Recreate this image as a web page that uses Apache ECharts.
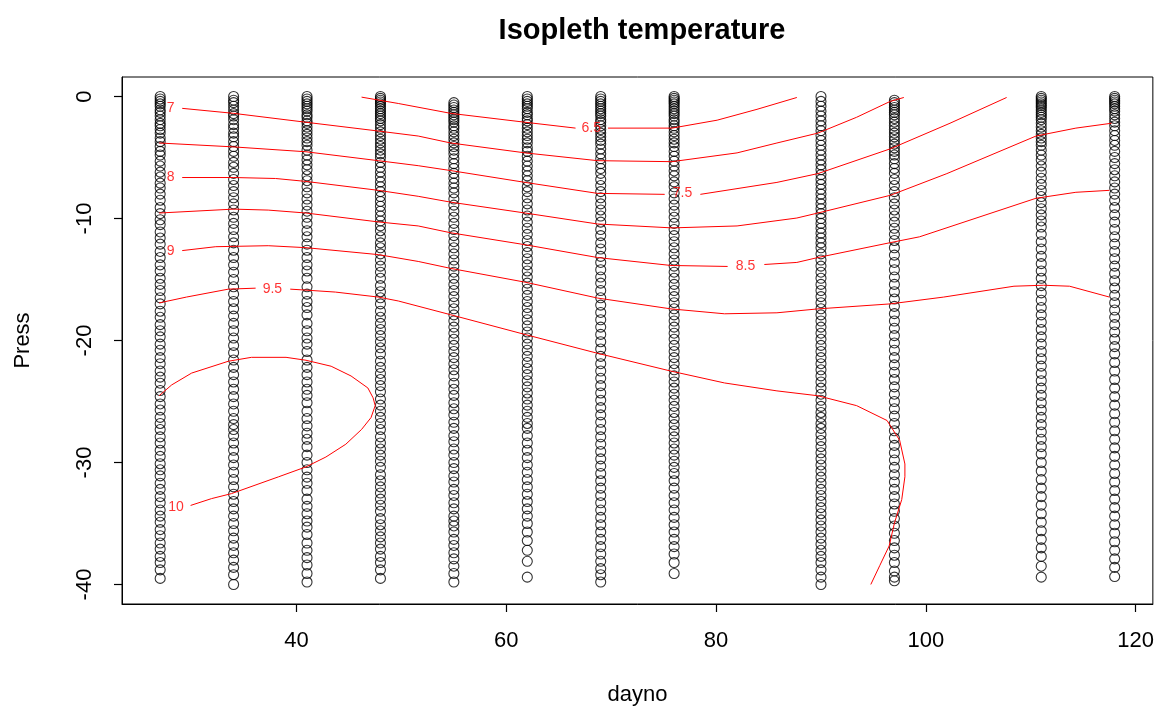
<!DOCTYPE html>
<html>
<head>
<meta charset="utf-8">
<script src="https://cdn.jsdelivr.net/npm/echarts@6/dist/echarts.min.js"></script>
<style>
  html, body { margin: 0; padding: 0; background: #fff; }
  #main { width: 1157px; height: 711px; }
</style>
</head>
<body>
<div id="main"></div>
<script>
// sampling days (stations) and pressures of each cast
var days = [27, 34, 41, 48, 55, 62, 69, 76, 90, 97, 111, 118];

var p27 = [0,-0.2,-0.4,-0.6,-0.8,-1.1,-1.3,-1.6,-1.9,-2.2,-2.4,-2.7,-3,-3.4,-3.7,-4.1,-4.5,-4.8,-5.3,-5.7,-6.2,-6.6,-7.1,-7.5,-8,-8.5,-9.1,-9.6,-10.1,-10.5,-11.1,-11.6,-12.1,-12.7,-13.2,-13.8,-14.3,-14.9,-15.4,-15.9,-16.5,-17,-17.6,-18.1,-18.7,-19.2,-19.7,-20.3,-20.8,-21.4,-21.9,-22.5,-23,-23.5,-24.1,-24.6,-25.2,-25.7,-26.3,-26.8,-27.3,-27.9,-28.4,-29,-29.5,-30.1,-30.6,-31.1,-31.7,-32.2,-32.8,-33.3,-33.9,-34.4,-34.9,-35.5,-36,-36.6,-37.1,-37.7,-38.2,-38.8,-39.5];
var p34 = [0,-0.3,-0.5,-0.8,-1.1,-1.4,-1.6,-1.9,-2.3,-2.6,-3,-3.3,-3.7,-4.1,-4.5,-4.9,-5.4,-5.8,-6.3,-6.8,-7.3,-7.8,-8.3,-8.8,-9.3,-9.9,-10.4,-10.9,-11.5,-12,-12.6,-13.2,-13.8,-14.4,-15,-15.6,-16.2,-16.8,-17.4,-18,-18.6,-19.2,-19.8,-20.4,-21,-21.6,-22.2,-22.8,-23.4,-24,-24.6,-25.2,-25.8,-26.4,-26.9,-27.3,-27.8,-28.4,-29,-29.6,-30.2,-30.8,-31.4,-32,-32.6,-33.2,-33.8,-34.4,-35,-35.6,-36.2,-36.8,-37.4,-38,-38.6,-39.2,-40];
var p41 = [0,-0.2,-0.4,-0.6,-0.8,-1,-1.2,-1.5,-1.7,-2,-2.2,-2.5,-2.8,-3.1,-3.4,-3.7,-4,-4.4,-4.8,-5.2,-5.6,-6,-6.5,-6.9,-7.4,-7.9,-8.4,-8.9,-9.4,-9.9,-10.4,-11,-11.5,-12.1,-12.6,-13.2,-13.8,-14.3,-14.9,-15.6,-16.2,-16.8,-17.3,-17.9,-18.6,-19.2,-19.8,-20.3,-20.9,-21.6,-22.2,-22.8,-23.4,-24,-24.5,-25.1,-25.8,-26.4,-27,-27.6,-28.1,-28.7,-29.4,-30,-30.6,-31.2,-31.7,-32.3,-33,-33.6,-34.2,-34.8,-35.3,-35.9,-36.6,-37.2,-37.8,-38.4,-39.1,-39.8];
var p48 = [0,-0.15,-0.3,-0.45,-0.6,-0.8,-1,-1.2,-1.4,-1.6,-1.8,-2,-2.3,-2.6,-2.9,-3.2,-3.5,-3.8,-4.1,-4.4,-4.7,-5,-5.4,-5.8,-6.2,-6.6,-7,-7.4,-7.8,-8.2,-8.6,-9,-9.4,-9.8,-10.2,-10.6,-11,-11.5,-12,-12.4,-12.9,-13.4,-13.9,-14.4,-14.9,-15.5,-16,-16.5,-17,-17.6,-18.1,-18.6,-19.1,-19.6,-20.1,-20.6,-21.1,-21.7,-22.2,-22.7,-23.2,-23.7,-24.2,-24.8,-25.3,-25.8,-26.3,-26.8,-27.3,-27.9,-28.4,-28.9,-29.4,-29.9,-30.4,-31,-31.5,-32,-32.5,-33,-33.5,-34,-34.6,-35.1,-35.6,-36.1,-36.6,-37.1,-37.7,-38.2,-38.8,-39.5];
var p55 = [-0.5,-0.7,-0.9,-1.1,-1.3,-1.5,-1.7,-1.9,-2.1,-2.4,-2.6,-2.9,-3.2,-3.5,-3.8,-4.1,-4.4,-4.7,-5.1,-5.5,-5.9,-6.3,-6.7,-7.1,-7.5,-7.9,-8.4,-8.9,-9.4,-9.9,-10.4,-10.9,-11.4,-11.9,-12.4,-12.9,-13.4,-13.9,-14.4,-14.9,-15.4,-15.9,-16.4,-16.9,-17.4,-17.9,-18.4,-18.9,-19.4,-19.9,-20.4,-20.9,-21.4,-21.9,-22.4,-22.9,-23.5,-24,-24.5,-25.1,-25.6,-26.1,-26.7,-27.2,-27.8,-28.3,-28.9,-29.4,-30,-30.5,-31.1,-31.6,-32.2,-32.7,-33.3,-33.8,-34.4,-34.8,-35.2,-35.7,-36.3,-36.8,-37.4,-37.9,-38.5,-39.1,-39.8];
var p62 = [0,-0.2,-0.4,-0.6,-0.8,-1,-1.3,-1.5,-1.8,-2,-2.3,-2.6,-2.9,-3.2,-3.5,-3.8,-4.2,-4.5,-4.9,-5.3,-5.7,-6.1,-6.5,-6.9,-7.4,-7.8,-8.3,-8.8,-9.3,-9.8,-10.3,-10.8,-11.3,-11.8,-12.3,-12.8,-13.3,-13.8,-14.3,-14.8,-15.3,-15.8,-16.3,-16.8,-17.3,-17.8,-18.3,-18.8,-19.3,-19.8,-20.3,-20.8,-21.3,-21.8,-22.3,-22.8,-23.3,-23.8,-24.3,-24.8,-25.3,-25.8,-26.3,-26.8,-27.2,-27.8,-28.4,-29,-29.6,-30.2,-30.8,-31.4,-32,-32.6,-33.2,-33.8,-34.4,-35,-35.7,-36.4,-37.2,-38.1,-39.4];
var p69 = [0,-0.2,-0.4,-0.6,-0.8,-1,-1.2,-1.4,-1.6,-1.9,-2.1,-2.4,-2.7,-3,-3.3,-3.6,-3.9,-4.3,-4.7,-5.1,-5.5,-5.9,-6.3,-6.8,-7.3,-7.8,-8.3,-8.8,-9.3,-9.8,-10.3,-10.9,-11.4,-12,-12.5,-13.1,-13.6,-14.2,-14.8,-15.3,-15.9,-16.5,-17.1,-17.7,-18.3,-18.9,-19.5,-20.1,-20.7,-21.3,-21.9,-22.5,-23.1,-23.7,-24.3,-24.9,-25.5,-26.1,-26.7,-27.3,-27.9,-28.5,-29.1,-29.7,-30.3,-30.9,-31.5,-32.1,-32.7,-33.3,-33.9,-34.5,-35.1,-35.7,-36.3,-36.9,-37.5,-38.1,-38.7,-39.2,-39.8];
var p76 = [0,-0.15,-0.3,-0.45,-0.6,-0.8,-1,-1.2,-1.4,-1.6,-1.9,-2.1,-2.4,-2.6,-2.9,-3.2,-3.5,-3.8,-4.1,-4.5,-4.9,-5.3,-5.7,-6.1,-6.5,-7,-7.4,-7.9,-8.4,-8.9,-9.4,-9.9,-10.4,-10.9,-11.4,-11.9,-12.4,-12.9,-13.4,-13.9,-14.4,-14.9,-15.4,-15.9,-16.4,-16.9,-17.4,-17.9,-18.4,-18.9,-19.4,-19.9,-20.4,-20.9,-21.4,-21.9,-22.4,-22.9,-23.4,-23.9,-24.4,-24.9,-25.4,-25.9,-26.4,-26.9,-27.4,-27.9,-28.4,-28.9,-29.4,-29.9,-30.4,-30.9,-31.5,-32.1,-32.7,-33.3,-33.9,-34.5,-35.1,-35.7,-36.3,-36.9,-37.5,-38.2,-39.1];
var p90 = [0,-0.4,-0.8,-1.2,-1.6,-2,-2.4,-2.8,-3.2,-3.6,-4,-4.4,-4.8,-5.2,-5.6,-6,-6.4,-6.8,-7.2,-7.6,-8,-8.4,-8.8,-9.2,-9.6,-10,-10.4,-10.8,-11.2,-11.6,-12,-12.4,-12.9,-13.4,-13.9,-14.4,-14.9,-15.4,-15.9,-16.4,-16.9,-17.4,-17.9,-18.4,-18.9,-19.4,-19.9,-20.4,-20.9,-21.4,-21.9,-22.4,-22.9,-23.4,-23.9,-24.4,-24.9,-25.4,-25.9,-26.3,-26.8,-27.2,-27.7,-28.2,-28.7,-29.2,-29.7,-30.2,-30.7,-31.2,-31.7,-32.2,-32.7,-33.2,-33.7,-34.2,-34.7,-35.2,-35.7,-36.2,-36.7,-37.2,-37.7,-38.2,-38.8,-39.4,-40];
var p97 = [-0.3,-0.5,-0.7,-0.9,-1.1,-1.3,-1.5,-1.8,-2.1,-2.4,-2.7,-3,-3.3,-3.6,-3.9,-4.2,-4.5,-4.8,-5.1,-5.5,-5.9,-6.3,-6.8,-7.3,-7.8,-8.3,-8.8,-9.3,-9.8,-10.3,-10.8,-11.3,-11.8,-12.4,-13,-13.6,-14.2,-14.8,-15.4,-16,-16.6,-17.2,-17.8,-18.4,-19,-19.6,-20.2,-20.8,-21.4,-22,-22.6,-23.2,-23.8,-24.4,-25,-25.6,-26.2,-26.8,-27.4,-28,-28.6,-29.2,-29.8,-30.4,-31,-31.6,-32.2,-32.8,-33.4,-34,-34.6,-35.2,-35.8,-36.4,-37,-37.6,-38.2,-38.9,-39.4,-39.7];
var p111 = [0,-0.15,-0.3,-0.45,-0.6,-0.75,-0.9,-1.1,-1.3,-1.5,-1.7,-1.9,-2.2,-2.5,-2.8,-3.1,-3.4,-3.7,-4,-4.4,-4.8,-5.2,-5.7,-6.2,-6.7,-7.2,-7.7,-8.2,-8.7,-9.2,-9.7,-10.2,-10.7,-11.3,-11.9,-12.5,-13.1,-13.7,-14.3,-14.9,-15.5,-16.1,-16.7,-17.3,-17.9,-18.5,-19.1,-19.7,-20.3,-20.9,-21.5,-22.1,-22.7,-23.3,-23.9,-24.5,-25.1,-25.7,-26.3,-26.9,-27.5,-28.1,-28.7,-29.3,-30,-30.7,-31.4,-32.1,-32.8,-33.5,-34.2,-34.9,-35.6,-36.3,-37,-37.7,-38.5,-39.4];
var p118 = [0,-0.15,-0.3,-0.45,-0.6,-0.8,-1,-1.2,-1.5,-1.8,-2.1,-2.4,-2.8,-3.2,-3.6,-4,-4.5,-5,-5.5,-6,-6.5,-7,-7.5,-8,-8.5,-9.1,-9.7,-10.3,-10.9,-11.5,-12.1,-12.7,-13.3,-13.9,-14.5,-15.1,-15.7,-16.3,-16.9,-17.5,-18.1,-18.7,-19.3,-19.9,-20.5,-21.1,-21.8,-22.5,-23.2,-23.9,-24.6,-25.3,-26,-26.7,-27.4,-28.1,-28.8,-29.5,-30.2,-30.9,-31.6,-32.3,-33,-33.7,-34.4,-35.1,-35.8,-36.5,-37.2,-37.9,-38.6,-39.35];
var pressByDay = [p27, p34, p41, p48, p55, p62, p69, p76, p90, p97, p111, p118];

// isopleth lines, [dayno, press]
var iso65a = [[46.2,-0.05],[49.7,-0.57],[54.7,-1.38],[61.8,-2.11],[66.6,-2.59]];
var iso65b = [[69.7,-2.59],[75.8,-2.59],[80.1,-1.94],[83.9,-1.05],[87.7,-0.08]];
var iso7 = [[29.1,-0.97],[34.0,-1.38],[40.9,-2.11],[47.8,-2.83],[51.6,-3.24],[54.7,-3.81],[61.8,-4.62],[68.7,-5.26],[75.8,-5.34],[82.0,-4.62],[85.8,-3.81],[89.7,-3.0],[93.4,-1.7],[96.6,-0.4],[97.9,-0.08]];
var iso75a = [[26.9,-3.81],[34.0,-4.13],[40.9,-4.53],[47.8,-5.26],[51.6,-5.67],[54.7,-6.07],[61.8,-7.04],[68.7,-7.94],[75.1,-8.02]];
var iso75b = [[78.5,-8.02],[85.8,-7.04],[89.7,-6.32],[96.6,-4.29],[102.3,-2.19],[107.7,-0.08]];
var iso8 = [[29.1,-6.64],[34.0,-6.64],[38.0,-6.72],[40.9,-6.96],[47.8,-7.69],[51.6,-8.18],[54.7,-8.66],[61.8,-9.55],[68.7,-10.45],[75.8,-10.77],[82.0,-10.61],[87.7,-9.96],[89.7,-9.55],[96.6,-8.1],[102.0,-6.32],[110.5,-3.24],[114.3,-2.59],[117.7,-2.19]];
var iso85a = [[26.9,-9.55],[34.0,-9.23],[37.3,-9.31],[40.9,-9.55],[47.8,-10.28],[51.6,-10.61],[54.7,-11.17],[61.8,-12.15],[68.7,-13.2],[75.7,-13.85],[81.1,-13.93]];
var iso85b = [[84.6,-13.77],[87.7,-13.6],[89.7,-13.2],[96.6,-11.98],[99.4,-11.5],[110.5,-8.34],[114.3,-7.85],[117.5,-7.69]];
var iso9 = [[29.1,-12.63],[32.3,-12.31],[37.3,-12.23],[40.9,-12.39],[47.8,-12.96],[51.6,-13.52],[54.7,-14.09],[61.8,-15.22],[68.7,-16.52],[75.7,-17.41],[80.8,-17.81],[85.8,-17.73],[89.7,-17.41],[96.6,-17.0],[101.7,-16.44],[108.4,-15.55],[111.2,-15.47],[113.7,-15.55],[117.5,-16.44]];
var iso95a = [[26.9,-16.92],[29.5,-16.44],[33.5,-15.79],[36.1,-15.71]];
var iso95b = [[39.4,-15.79],[40.9,-15.87],[43.7,-16.03],[47.8,-16.44],[49.7,-16.76],[54.7,-17.89],[61.8,-19.51],[68.7,-21.05],[75.7,-22.51],[80.8,-23.48],[85.8,-24.13],[89.7,-24.53],[93.4,-25.34],[96.3,-26.56],[97.5,-28.18],[98.0,-30.12],[98.0,-31.17],[97.7,-33.04],[97.0,-34.98],[96.5,-36.84],[95.6,-38.46],[94.75,-40.0]];
var iso10 = [[26.9,-24.53],[28.1,-23.64],[30.0,-22.67],[33.5,-21.7],[35.7,-21.38],[39.0,-21.38],[40.9,-21.62],[43.3,-22.11],[45.2,-22.91],[46.8,-23.89],[47.3,-24.7],[47.5,-25.34],[47.1,-26.32],[46.2,-27.29],[44.7,-28.5],[42.8,-29.55],[40.9,-30.36],[38.3,-31.17],[33.8,-32.55],[31.9,-32.96],[29.9,-33.52]];

// contour labels
var isoLabels = ['7', '6.5', '8', '7.5', '9', '8.5', '9.5', '10'];
var isoLabelAt = [[28.0,-0.97],[68.1,-2.59],[28.0,-6.64],[76.8,-7.94],[28.0,-12.71],[82.8,-13.93],[37.7,-15.79],[28.5,-33.7]];

var xTicks = [40, 60, 80, 100, 120];
var yTicks = [0, -10, -20, -30, -40];

var myChart = echarts.init(document.getElementById('main'));

var pts = [];
for (var i = 0; i < days.length; i++) {
    for (var j = 0; j < pressByDay[i].length; j++) {
        pts.push([days[i], pressByDay[i][j]]);
    }
}

var lines = [iso65a, iso65b, iso7, iso75a, iso75b, iso8, iso85a, iso85b, iso9, iso95a, iso95b, iso10];
var series1 = [
    {
        type: 'scatter',
        data: pts,
        symbol: 'circle',
        symbolSize: 10,
        itemStyle: { color: 'rgba(0,0,0,0)', borderColor: '#000', borderWidth: 1.1 },
        z: 2
    }
];
lines.forEach(function (l) {
    series1.push({
        type: 'line',
        data: l,
        showSymbol: false,
        symbol: 'none',
        lineStyle: { color: '#ff0000', width: 1 },
        z: 3
    });
});
series1.push({
    type: 'scatter',
    data: isoLabelAt.map(function (p, k) { return { value: p, name: isoLabels[k] }; }),
    symbolSize: 0,
    label: {
        show: true,
        position: 'inside',
        formatter: '{b}',
        color: '#ff0000',
        fontSize: 14,
        fontFamily: 'Liberation Sans'
    },
    z: 4
});

var option = {
    animation: false,
    backgroundColor: '#fff',
    title: {
        text: 'Isopleth temperature',
        left: 637,
        top: 11,
        textAlign: 'center',
        textStyle: { fontSize: 29, fontWeight: 'bold', color: '#000', fontFamily: 'Liberation Sans' }
    },
    grid: {
        left: 122, right: 2, top: 77, bottom: 103,
        show: true, borderColor: '#000', borderWidth: 1
    },
    xAxis: {
        type: 'value',
        min: 23.36, max: 121.64,
        name: 'dayno',
        nameLocation: 'middle',
        nameGap: 80,
        nameTextStyle: { fontSize: 22, color: '#000', fontFamily: 'Liberation Sans' },
        splitLine: { show: false },
        axisLine: { show: true, onZero: false, lineStyle: { color: '#000', width: 1 } },
        axisTick: { show: true, length: 8, lineStyle: { color: '#000', width: 1.2 }, customValues: xTicks },
        axisLabel: { fontSize: 22, color: '#000', margin: 26, fontFamily: 'Liberation Sans', customValues: xTicks }
    },
    yAxis: {
        type: 'value',
        min: -41.6, max: 1.6,
        name: 'Press',
        nameLocation: 'middle',
        nameRotate: 90,
        nameGap: 88,
        nameTextStyle: { fontSize: 22, color: '#000', fontFamily: 'Liberation Sans' },
        splitLine: { show: false },
        axisLine: { show: true, onZero: false, lineStyle: { color: '#000', width: 1 } },
        axisTick: { show: true, length: 8, lineStyle: { color: '#000', width: 1.2 }, customValues: yTicks },
        axisLabel: { fontSize: 22, color: '#000', margin: 26, rotate: 90, fontFamily: 'Liberation Sans', customValues: yTicks }
    },
    series: series1
};

myChart.setOption(option);
</script>
</body>
</html>
